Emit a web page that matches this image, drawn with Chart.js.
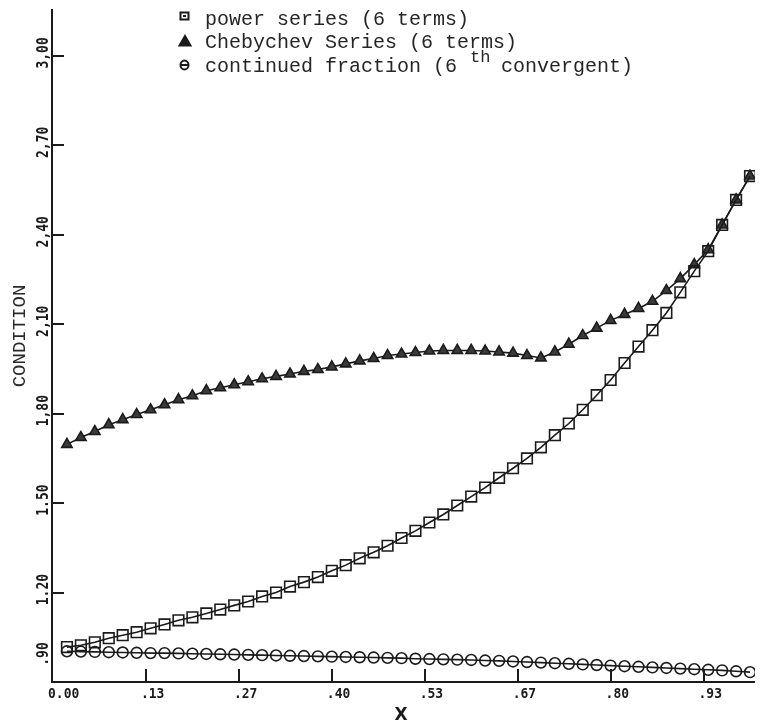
<!DOCTYPE html>
<html>
<head>
<meta charset="utf-8">
<script src="https://cdn.jsdelivr.net/npm/chart.js@4.4.1/dist/chart.umd.min.js"></script>
<style>
  html, body { margin: 0; padding: 0; background: #ffffff; }
  #wrap { width: 764px; height: 725px; }
</style>
</head>
<body>
<div id="wrap"><canvas id="c" width="764" height="725"></canvas></div>
<script>
// Sample points along X
const xValues = [
  0.02, 0.04, 0.06, 0.08, 0.10, 0.12, 0.14, 0.16, 0.18, 0.20,
  0.22, 0.24, 0.26, 0.28, 0.30, 0.32, 0.34, 0.36, 0.38, 0.40,
  0.42, 0.44, 0.46, 0.48, 0.50, 0.52, 0.54, 0.56, 0.58, 0.60,
  0.62, 0.64, 0.66, 0.68, 0.70, 0.72, 0.74, 0.76, 0.78, 0.80,
  0.82, 0.84, 0.86, 0.88, 0.90, 0.92, 0.94, 0.96, 0.98, 1.00
];

// Condition of the power series approximation (6 terms)
const powerSeries = [
  1.017, 1.023, 1.033, 1.047, 1.057, 1.067, 1.080, 1.093, 1.107, 1.117,
  1.130, 1.143, 1.157, 1.170, 1.187, 1.200, 1.220, 1.235, 1.252, 1.273,
  1.292, 1.315, 1.335, 1.357, 1.383, 1.407, 1.435, 1.462, 1.492, 1.522,
  1.552, 1.585, 1.617, 1.650, 1.687, 1.728, 1.767, 1.813, 1.862, 1.913,
  1.970, 2.025, 2.080, 2.138, 2.207, 2.278, 2.345, 2.433, 2.517, 2.597
];

// Condition of the Chebychev series (6 terms)
const chebychevSeries = [
  1.697, 1.720, 1.740, 1.763, 1.780, 1.797, 1.813, 1.830, 1.847, 1.860,
  1.877, 1.887, 1.897, 1.907, 1.917, 1.925, 1.933, 1.942, 1.948, 1.957,
  1.967, 1.977, 1.985, 1.995, 2.000, 2.005, 2.010, 2.012, 2.012, 2.012,
  2.010, 2.007, 2.003, 1.995, 1.987, 2.007, 2.033, 2.062, 2.087, 2.113,
  2.133, 2.153, 2.177, 2.213, 2.253, 2.300, 2.350, 2.433, 2.517, 2.597
];

// Condition of the continued fraction (6th convergent)
const continuedFraction = [
  1.003, 1.002, 1.001, 1.000, 0.999, 0.998, 0.997, 0.997, 0.996, 0.995,
  0.994, 0.993, 0.992, 0.991, 0.990, 0.989, 0.988, 0.987, 0.986, 0.985,
  0.984, 0.983, 0.982, 0.981, 0.980, 0.978, 0.977, 0.976, 0.975, 0.974,
  0.972, 0.971, 0.969, 0.967, 0.965, 0.963, 0.961, 0.959, 0.957, 0.955,
  0.953, 0.951, 0.949, 0.947, 0.945, 0.943, 0.941, 0.939, 0.936, 0.933
];

const xTickValues = [0, 0.1333, 0.2667, 0.4, 0.5333, 0.6667, 0.8, 0.9333];
const xTickLabels = ['0.00', '.13', '.27', '.40', '.53', '.67', '.80', '.93'];
const yTickValues = [0.9, 1.2, 1.5, 1.8, 2.1, 2.4, 2.7, 3.0];
const yTickLabels = ['.90', '1.20', '1.50', '1,80', '2,10', '2,40', '2,70', '3,00'];

const seriesNames = [
  'power series (6 terms)',
  'Chebychev Series (6 terms)',
  'continued fraction (6'
];
const xTitle = 'X';
const yTitle = 'CONDITION';

const INK = '#1b1b1b';
const TICK_FONT = 'bold 13px "DejaVu Sans Mono"';
const LEGEND_FONT = '20px "Liberation Mono"';

function toPoints(values) {
  return xValues.map((x, i) => ({ x: x, y: values[i] }));
}

// Axes, ticks, titles and key drawn in the style of a pen plotter
const plotterFrame = {
  id: 'plotterFrame',
  beforeDatasetsDraw(chart) {
    const { ctx, chartArea: a, scales } = chart;
    const xs = scales.x, ys = scales.y;
    const axisX = Math.round(xs.getPixelForValue(0)) - 1;
    const axisY = Math.round(ys.getPixelForValue(0.9));
    ctx.save();
    ctx.strokeStyle = INK;
    ctx.lineWidth = 2;
    ctx.lineCap = 'butt';
    ctx.beginPath();
    ctx.moveTo(axisX, a.top);
    ctx.lineTo(axisX, axisY + 1);
    ctx.moveTo(axisX - 1, axisY);
    ctx.lineTo(a.right, axisY);
    ctx.stroke();

    // tick marks pointing into the plot
    ctx.beginPath();
    yTickValues.forEach(v => {
      if (v === 0.9) return;
      const py = Math.round(ys.getPixelForValue(v));
      ctx.moveTo(axisX, py);
      ctx.lineTo(axisX + 12, py);
    });
    xTickValues.forEach(v => {
      if (v === 0) return;
      const px = Math.round(xs.getPixelForValue(v));
      ctx.moveTo(px, axisY);
      ctx.lineTo(px, axisY - 13);
    });
    ctx.stroke();

    // tick labels
    ctx.fillStyle = INK;
    ctx.font = TICK_FONT;
    ctx.textBaseline = 'alphabetic';
    ctx.textAlign = 'left';
    xTickValues.forEach((v, i) => {
      const px = xs.getPixelForValue(v);
      ctx.save();
      ctx.translate(px - 5, axisY + 16);
      ctx.scale(1, 1.1);
      ctx.fillText(xTickLabels[i], 0, 0);
      ctx.restore();
    });
    ctx.textAlign = 'center';
    yTickValues.forEach((v, i) => {
      const py = Math.min(ys.getPixelForValue(v) - 3, axisY - 28);
      ctx.save();
      ctx.translate(axisX - 4, py);
      ctx.rotate(-Math.PI / 2);
      ctx.scale(1, 1.25);
      ctx.fillText(yTickLabels[i], 0, 0);
      ctx.restore();
    });

    // axis titles
    ctx.font = '19px "Liberation Mono"';
    ctx.fillStyle = '#2a2a2a';
    ctx.save();
    ctx.translate(25, 336);
    ctx.rotate(-Math.PI / 2);
    ctx.fillText(yTitle, 0, 0);
    ctx.restore();
    ctx.font = 'bold 17px "DejaVu Sans"';
    ctx.fillStyle = INK;
    ctx.fillText(xTitle, 401, 720);
    ctx.restore();
  },
  afterDraw(chart) {
    const { ctx } = chart;
    ctx.save();
    ctx.strokeStyle = INK;
    ctx.fillStyle = INK;
    ctx.lineWidth = 2;

    // key symbols
    ctx.strokeRect(180.5, 12.5, 8, 7);
    ctx.fillRect(183, 15, 3, 2);
    ctx.beginPath();
    ctx.moveTo(185, 36);
    ctx.lineTo(190.5, 45.5);
    ctx.lineTo(179.5, 45.5);
    ctx.closePath();
    ctx.fill();
    ctx.stroke();
    ctx.beginPath();
    ctx.ellipse(184.5, 65, 4, 4.5, 0, 0, Math.PI * 2);
    ctx.stroke();
    ctx.beginPath();
    ctx.moveTo(181, 65);
    ctx.lineTo(188, 65);
    ctx.stroke();

    // key text
    ctx.fillStyle = '#262626';
    ctx.font = LEGEND_FONT;
    ctx.textAlign = 'left';
    ctx.textBaseline = 'alphabetic';
    ctx.fillText(seriesNames[0], 205, 25);
    ctx.fillText(seriesNames[1], 205, 48);
    ctx.fillText(seriesNames[2], 205, 72);
    const w = ctx.measureText(seriesNames[2]).width;
    ctx.font = '17px "Liberation Mono"';
    ctx.fillText('th', 205 + w + 13, 62);
    ctx.font = LEGEND_FONT;
    ctx.fillText(' convergent)', 205 + w + 32, 72);
    ctx.restore();
  }
};

const baseLine = {
  borderColor: INK,
  borderWidth: 1.6,
  tension: 0,
  fill: false,
  pointBorderColor: INK,
  pointBorderWidth: 1.6
};

new Chart(document.getElementById('c'), {
  type: 'line',
  data: {
    datasets: [
      Object.assign({}, baseLine, {
        label: seriesNames[0],
        data: toPoints(powerSeries),
        pointStyle: 'rect',
        pointRadius: 7.5,
        pointHoverRadius: 7.5,
        pointBackgroundColor: 'rgba(0,0,0,0)'
      }),
      Object.assign({}, baseLine, {
        label: seriesNames[1],
        data: toPoints(chebychevSeries),
        pointStyle: 'triangle',
        pointRadius: 6,
        pointHoverRadius: 6,
        pointBackgroundColor: '#3a3a3a'
      }),
      Object.assign({}, baseLine, {
        label: seriesNames[2],
        data: toPoints(continuedFraction),
        pointStyle: 'circle',
        pointRadius: 5.4,
        pointHoverRadius: 5.4,
        pointBackgroundColor: 'rgba(0,0,0,0)'
      })
    ]
  },
  options: {
    responsive: false,
    animation: false,
    events: [],
    layout: { padding: { left: 53, top: 5, right: 0, bottom: 43 } },
    plugins: {
      legend: { display: false },
      tooltip: { enabled: false }
    },
    scales: {
      x: { type: 'linear', min: 0, max: 1.007, display: false },
      y: { type: 'linear', min: 0.9, max: 3.157, display: false }
    }
  },
  plugins: [plotterFrame]
});
</script>
</body>
</html>
